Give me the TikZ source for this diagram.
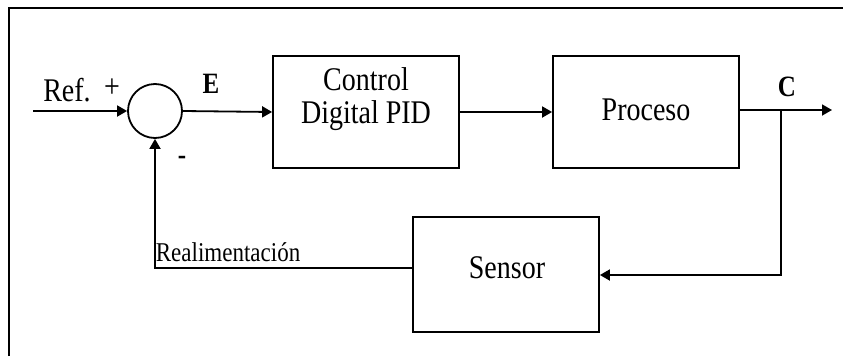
\documentclass[tikz,border=0pt]{standalone}
\usepackage{fontspec}
\setmainfont{Liberation Serif}
\usetikzlibrary{arrows.meta}
\begin{document}
\begin{tikzpicture}[x=1pt,y=1pt,
  line width=1.8pt,
  block/.style={draw,rectangle,inner sep=0pt,minimum width=186pt},
  sumnode/.style={draw,circle,inner sep=0pt,minimum size=54pt},
  sig/.style={-{Triangle[length=10pt,width=11pt]}},
  tall/.style={yscale=1.18,transform shape,inner sep=0pt},
  boxtext/.style={tall,font=\fontsize{28}{28}\selectfont,align=center},
  lbl/.style={tall,font=\fontsize{28}{30}\selectfont},
  bold/.style={tall,font=\fontsize{25}{27}\selectfont\bfseries}]
\useasboundingbox (0,0) rectangle (843,-356);
% frame edges
\draw[line width=2.4pt] (9,-356) -- (9,-8) -- (843,-8);

% blocks
\node[sumnode] (sum) at (155,-111) {};
\node[block,minimum height=112pt] (ctrl) at (366,-112) {};
\node[block,minimum height=112pt] (proc) at (646,-112) {};
\node[block,minimum height=115pt] (sens) at (506,-274.5) {};

% block texts
\node[boxtext] (ctrltxt) at (366,-99) {Control\\Digital PID};
\node[boxtext] (proctxt) at (646,-110) {Proceso};
\node[boxtext] (senstxt) at (507,-268) {Sensor};

% signal labels
\node[lbl] (ref) at (67,-90) {Ref.};
\node[lbl] (plus) at (112,-88) {+};
\node[bold] (minus) at (182,-160) {-};
\node[bold] (e) at (211,-84) {E};
\node[bold] (c) at (787,-87) {C};
\node[tall,font=\fontsize{23}{24}\selectfont,anchor=base west] (fb) at (155,-261) {Realimentación};

% connectors
\coordinate (in) at (33,-111);
\coordinate (out) at (832,-110);
\coordinate (br) at (781,-110);
\draw[sig] (in) -- (sum.west);
\draw[sig] (sum.east) -- (ctrl.west);
\draw[sig] (ctrl.east) -- (proc.west);
\draw[sig] (proc.east |- out) -- (out);
\draw[sig] (br) |- ([yshift=-0.5pt]sens.east);
\draw[sig] ([yshift=6.5pt]sens.west) -| (sum.south);
\end{tikzpicture}
\end{document}
